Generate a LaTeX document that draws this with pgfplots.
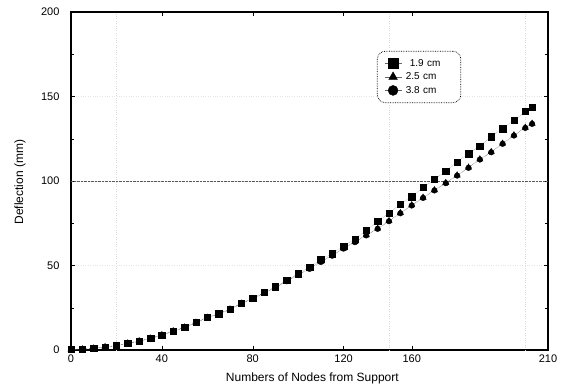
\documentclass[border=0pt]{standalone}
\usepackage{pgfplots}
\pgfplotsset{compat=1.18}
\usepackage{pgfplotstable}
\usepackage{fontspec}
\setmainfont{Liberation Sans}

\pgfplotstableread{
x sq tr ci
0 0.3 0.3 0.2
5 0.5 0.5 0.4
10 1.0 1.0 0.9
15 1.8 1.8 1.7
20 2.6 2.6 2.5
25 4.0 4.0 3.9
30 5.3 5.3 5.2
35 6.9 6.9 6.8
40 8.9 8.9 8.8
45 11.2 11.2 11.1
50 13.4 13.4 13.3
55 16.3 16.3 16.2
60 19.3 19.2 19.1
65 21.5 21.4 21.3
70 24.2 24.1 24.0
75 27.8 27.6 27.5
80 30.5 30.3 30.2
85 34.1 33.8 33.7
90 37.4 37.0 36.9
95 41.4 40.8 40.7
100 45.1 44.4 44.3
105 49.1 48.2 48.0
110 53.6 52.3 52.1
115 57.1 56.0 55.8
120 61.5 60.2 60.0
125 65.6 64.0 63.8
130 71.0 68.0 67.8
135 76.2 71.9 71.7
140 81.1 76.4 76.2
145 86.1 81.1 80.9
150 90.8 85.7 85.5
155 96.2 90.2 90.0
160 100.9 94.6 94.4
165 105.8 98.9 98.7
170 111.3 103.4 103.2
175 116.2 108.0 107.8
180 120.7 112.9 112.7
185 126.1 117.2 117.0
190 131.0 122.2 122.0
195 135.9 127.1 126.9
200 141.2 131.6 131.4
203 143.8 134.0 133.8
}\data

\begin{document}
\begin{tikzpicture}
\begin{axis}[
  scale only axis, width=477pt, height=338pt,
  at={(0,0)}, anchor=south west,
  xmin=0, xmax=210, ymin=0, ymax=200,
  xtick={0,40,80,120,150,210},
  xticklabels={0,40,80,120,160,210},
  ytick={0,50,100,150,200},
  minor y tick num=1,
  axis line style={line width=1.6pt},
  tick style={black, thin},
  major tick length=4pt, minor tick length=3pt,
  tick align=inside,
  ymajorgrids,
  grid style={gray!20, dotted},
  extra y ticks={100}, extra y tick labels={},
  extra y tick style={grid style={gray!70!black, densely dotted, line width=0.8pt}, major tick length=0pt},
  extra x ticks={20,140,200}, extra x tick labels={},
  extra x tick style={grid=major, grid style={gray!30, dotted, line width=0.6pt}, major tick length=0pt},
  /pgf/number format/assume math mode=true,
  ticklabel style={font=\fontsize{11}{13}\selectfont},
  yticklabel style={xshift=-8pt},
  xticklabel style={yshift=-1pt},
  xlabel={Numbers of Nodes from Support},
  ylabel={Deflection (mm)},
  label style={font=\fontsize{12}{14}\selectfont},
  xlabel style={at={(axis description cs:0.506,-0.085)}, anchor=center},
  ylabel style={at={(axis description cs:-0.107,0.497)}, anchor=center, rotate=0},
  legend style={at={(0.6415,0.885)}, anchor=north west, draw=black, densely dotted,
    line width=0.7pt, rounded corners=8pt, font=\fontsize{10}{11}\selectfont,
    inner xsep=7pt, inner ysep=6pt, row sep=1pt, cells={anchor=west},
    text width=48pt},
  legend image code/.code={\draw[mark repeat=2, mark phase=2, #1] plot coordinates {(0cm,0cm) (0.3cm,0cm) (0.6cm,0cm)};},
  legend image post style={mark size=5pt, sharp corners, solid, thin},
]
\addplot[gray!80!black, densely dotted, thin, mark=square*, mark size=3.2pt,
  mark options={solid, black, fill=black}] table[x=x, y=sq]{\data};
\addlegendentry{\hspace{6pt}1.9 cm}
\addplot[gray!80!black, densely dotted, thin, mark=triangle*, mark size=3.6pt,
  mark options={solid, black, fill=black}] table[x=x, y=tr]{\data};
\addlegendentry{\hspace{2pt}2.5 cm}
\addplot[gray!80!black, densely dotted, thin, mark=*, mark size=2.8pt,
  mark options={solid, black, fill=black}] table[x=x, y=ci]{\data};
\addlegendentry{\hspace{2pt}3.8 cm}
\end{axis}
\pgfresetboundingbox
\path (-71pt,-39pt) rectangle (493pt,350pt);
\end{tikzpicture}
\end{document}
